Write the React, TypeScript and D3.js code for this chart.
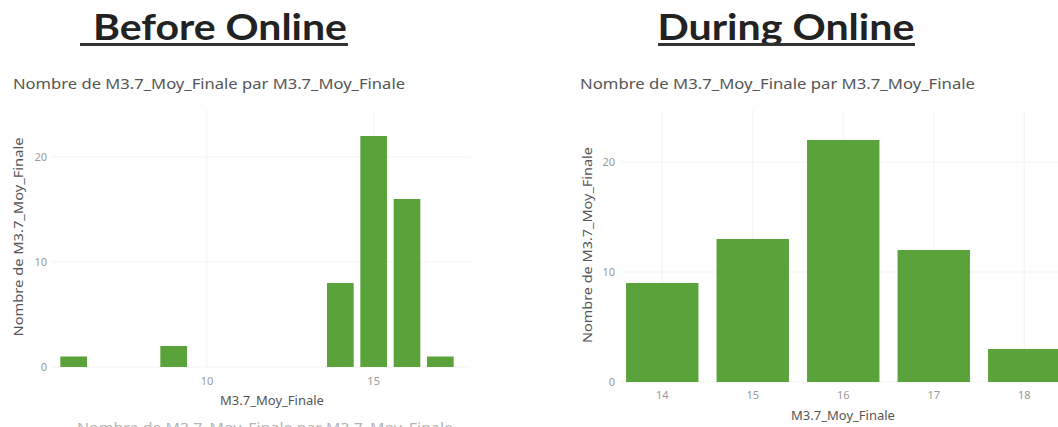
import React from "react";
import * as d3 from "d3";

const beforeScores = [6, 9, 14, 15, 16, 17];
const beforeCounts = [1, 2, 8, 22, 16, 1];
const duringScores = ["14", "15", "16", "17", "18"];
const duringCounts = [9, 13, 22, 12, 3];
const leftXTicks = [10, 15];
const yTicks = [0, 10, 20];

const W = 1058;
const H = 427;
const GREEN = "#5aa23a";
const TICK = "#9a9a9a";
const LABEL = "#555555";
const GRID = "#f3f3f3";
const FONT = "'Noto Sans', 'DejaVu Sans', sans-serif";
const TITLE_FONT = "Lato, 'Open Sans', sans-serif";
const SUB = "Nombre de M3.7_Moy_Finale par M3.7_Moy_Finale";
const YT = "Nombre de M3.7_Moy_Finale";
const XT = "M3.7_Moy_Finale";

export default function App() {
  // Left chart scales
  const xL = d3.scaleLinear().domain([5.5, 17.5]).range([57, 457]);
  const yL = d3.scaleLinear().domain([0, 24]).range([367, 115]);
  // Right chart scales
  const xR = d3.scaleBand<string>().domain(duringScores).range([617, 1069.5]).paddingInner(0.2).paddingOuter(0.1);
  const yR = d3.scaleLinear().domain([0, 24]).range([382, 118]);

  return (
    <svg width={W} height={H} style={{ position: "absolute", left: 0, top: 0, background: "#fff" }}>
      {/* Titles */}
      <text x={220} y={40} textAnchor="middle" fontFamily={TITLE_FONT} fontWeight={700} fontSize={36} fill="#222" textLength={254} lengthAdjust="spacingAndGlyphs">Before Online</text>
      <line x1={80} x2={348} y1={44.5} y2={44.5} stroke="#333" strokeWidth={3} />
      <text x={786} y={40} textAnchor="middle" fontFamily={TITLE_FONT} fontWeight={700} fontSize={36} fill="#222" textLength={257} lengthAdjust="spacingAndGlyphs">During Online</text>
      <line x1={658} x2={915} y1={44.5} y2={44.5} stroke="#333" strokeWidth={3} />

      <text x={13} y={89} fontFamily={FONT} fontSize={14} fill={LABEL} textLength={392} lengthAdjust="spacingAndGlyphs">{SUB}</text>
      <text x={580} y={89} fontFamily={FONT} fontSize={14} fill={LABEL} textLength={395} lengthAdjust="spacingAndGlyphs">{SUB}</text>

      {/* Left chart */}
      <g>
        {yTicks.map((t) => (
          <line key={"gl" + t} x1={52} x2={470} y1={yL(t)} y2={yL(t)} stroke={GRID} />
        ))}
        {leftXTicks.map((t) => (
          <line key={"gv" + t} x1={xL(t)} x2={xL(t)} y1={110} y2={367} stroke={GRID} />
        ))}
        {beforeScores.map((s, i) => (
          <rect key={s} x={xL(s - 0.4)} width={xL(s + 0.4) - xL(s - 0.4)} y={yL(beforeCounts[i])} height={yL(0) - yL(beforeCounts[i])} fill={GREEN} />
        ))}
        {yTicks.map((t) => (
          <text key={"yl" + t} x={47} y={yL(t) + 4} textAnchor="end" fontFamily={FONT} fontSize={11} fill={TICK}>{t}</text>
        ))}
        {leftXTicks.map((t) => (
          <text key={"xl" + t} x={xL(t)} y={385} textAnchor="middle" fontFamily={FONT} fontSize={11} fill={TICK}>{t}</text>
        ))}
        <text x={272} y={405} textAnchor="middle" fontFamily={FONT} fontSize={13} fill={LABEL}>{XT}</text>
        <text transform={`translate(23,237) rotate(-90)`} textAnchor="middle" fontFamily={FONT} fontSize={13} fill={LABEL} textLength={199} lengthAdjust="spacingAndGlyphs">{YT}</text>
        <text x={265} y={433} textAnchor="middle" fontFamily={FONT} fontSize={14} fill="#b5b5b5" textLength={376} lengthAdjust="spacingAndGlyphs">{SUB}</text>
      </g>

      {/* Right chart */}
      <g>
        {yTicks.map((t) => (
          <line key={"gr" + t} x1={620} x2={W} y1={yR(t)} y2={yR(t)} stroke={GRID} />
        ))}
        {duringScores.map((s) => (
          <line key={"gvr" + s} x1={(xR(s) as number) + xR.bandwidth() / 2} x2={(xR(s) as number) + xR.bandwidth() / 2} y1={110} y2={382} stroke={GRID} />
        ))}
        {duringScores.map((s, i) => (
          <rect key={s} x={xR(s)} width={xR.bandwidth()} y={yR(duringCounts[i])} height={yR(0) - yR(duringCounts[i])} fill={GREEN} />
        ))}
        {yTicks.map((t) => (
          <text key={"yr" + t} x={615} y={yR(t) + 4} textAnchor="end" fontFamily={FONT} fontSize={11} fill={TICK}>{t}</text>
        ))}
        {duringScores.map((s) => (
          <text key={"xr" + s} x={(xR(s) as number) + xR.bandwidth() / 2} y={399} textAnchor="middle" fontFamily={FONT} fontSize={11} fill={TICK}>{s}</text>
        ))}
        <text x={843} y={420} textAnchor="middle" fontFamily={FONT} fontSize={13} fill={LABEL}>{XT}</text>
        <text transform={`translate(592,245) rotate(-90)`} textAnchor="middle" fontFamily={FONT} fontSize={13} fill={LABEL} textLength={196} lengthAdjust="spacingAndGlyphs">{YT}</text>
      </g>
    </svg>
  );
}
